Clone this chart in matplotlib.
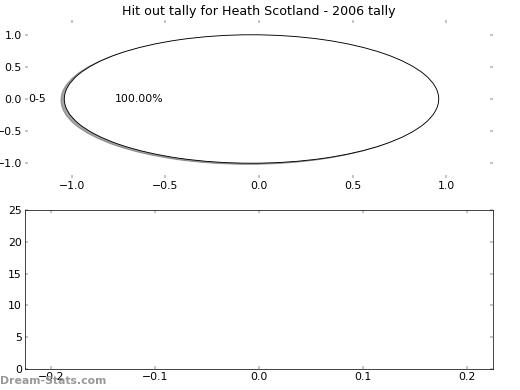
import matplotlib
matplotlib.use('Agg')
import matplotlib.pyplot as plt

# datos
categorias = ['0-5']
conteos = [1]
explode = [0.04]
titulo = 'Hit out tally for Heath Scotland - 2006 tally'

# barras (vacio en el original)
barras_x = []
barras_y = []

plt.rcParams['xtick.direction'] = 'in'
plt.rcParams['ytick.direction'] = 'in'
plt.rcParams['xtick.top'] = True
plt.rcParams['ytick.right'] = True
plt.rcParams['xtick.major.width'] = 0.5
plt.rcParams['ytick.major.width'] = 0.5
plt.rcParams['font.size'] = 12

fig = plt.figure(figsize=(8, 6), dpi=65)

# pastel
ax1 = fig.add_axes([25/520, 1 - 178/390, 468/520, 158/390])
wedges, textos, autotextos = ax1.pie(conteos, labels=categorias, explode=explode,
                                     autopct='%1.2f%%', shadow=True, frame=False,
                                     wedgeprops={'facecolor': 'white', 'edgecolor': 'black',
                                                 'linewidth': 1})
ax1.set_aspect('auto')
ax1.set_frame_on(False)
ax1.set_xlim(-1.25, 1.25)
ax1.set_ylim(-1.23, 1.23)
ax1.set_xticks([-1.0, -0.5, 0.0, 0.5, 1.0])
ax1.set_yticks([-1.0, -0.5, 0.0, 0.5, 1.0])
ax1.set_title(titulo, fontsize=14)

# barras
ax2 = fig.add_axes([25/520, 1 - 369/390, 468/520, 159/390])
ax2.bar(barras_x, barras_y)
ax2.set_xlim(-0.225, 0.225)
ax2.set_ylim(0, 25)
ax2.set_xticks([-0.2, -0.1, 0.0, 0.1, 0.2])
ax2.set_yticks([0, 5, 10, 15, 20, 25])

fig.text(0.0, 9/390, 'Dream-Stats.com', color='#999999', fontsize=12,
         fontweight='bold', ha='left', va='center')

fig.savefig('out.png', dpi=65)
